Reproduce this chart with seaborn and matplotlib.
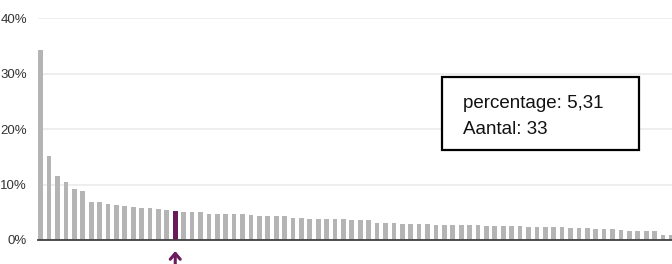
import matplotlib
matplotlib.use("Agg")
import matplotlib.pyplot as plt
import seaborn as sns
import pandas as pd
from matplotlib.patches import Rectangle

# ---- data ----
values = [34.3, 15.2, 11.6, 10.5, 9.15, 8.9, 6.8, 6.8, 6.55, 6.37,
          6.2, 6.0, 5.78, 5.78, 5.6, 5.4, 5.31, 5.0, 5.0, 5.0,
          4.76, 4.76, 4.76, 4.76, 4.76, 4.5, 4.34, 4.34, 4.34, 4.34,
          3.9, 3.9, 3.73, 3.73, 3.73, 3.73, 3.73, 3.55, 3.55, 3.55,
          3.13, 3.13, 3.13, 2.9, 2.9, 2.9, 2.9, 2.71, 2.71, 2.71,
          2.71, 2.71, 2.71, 2.53, 2.53, 2.53, 2.53, 2.53, 2.29, 2.29,
          2.29, 2.29, 2.29, 2.1, 2.1, 2.1, 1.93, 1.93, 1.93, 1.75,
          1.57, 1.57, 1.57, 1.57, 0.96, 0.96]
categories = [f"item{i+1:02d}" for i in range(len(values))]
highlight = "item17"
ytick_values = [0, 10, 20, 30, 40]
ytick_labels = ["0%", "10%", "20%", "30%", "40%"]
box_lines = ["percentage: 5,31", "Aantal: 33"]

GREY = "#b4b4b4"
PURPLE = "#6b1a5c"

df = pd.DataFrame({"cat": categories, "pct": values})
palette = {c: (PURPLE if c == highlight else GREY) for c in categories}

sns.set_theme(style="white")
plt.rcParams["font.family"] = ["Liberation Sans Narrow", "Liberation Sans", "DejaVu Sans"]

W, H = 672, 264
fig = plt.figure(figsize=(W / 100, H / 100), dpi=100)
ax_left, ax_right, ax_top, ax_bottom = 38.3, 672, 18.3, 240
ax = fig.add_axes([ax_left / W, (H - ax_bottom) / H,
                   (ax_right - ax_left) / W, (ax_bottom - ax_top) / H])

sns.barplot(data=df, x="cat", y="pct", hue="cat", palette=palette,
            legend=False, width=0.56, dodge=False, saturation=1, ax=ax, zorder=3,
            edgecolor="none", linewidth=0)

ax.set_ylim(0, 40)
ax.set_xlim(-0.285, len(values) - 1 + 0.07)
ax.set_yticks(ytick_values)
ax.set_yticklabels(ytick_labels, fontsize=9.5, color="#333333")
ax.set_xticks([])
ax.set_xlabel("")
ax.set_ylabel("")
ax.tick_params(axis="y", length=0, pad=8)
ax.yaxis.grid(True, color="#ebebeb", linewidth=1.2, zorder=0)
ax.set_axisbelow(True)
for s in ["top", "right", "left"]:
    ax.spines[s].set_visible(False)
ax.spines["bottom"].set_color("#404040")
ax.spines["bottom"].set_linewidth(1.3)
ax.spines["bottom"].set_zorder(4)

# arrow under highlighted bar
hi_idx = categories.index(highlight)
ax.annotate("", xy=(hi_idx, -0.05), xytext=(hi_idx, -0.108),
            xycoords=("data", "axes fraction"), textcoords=("data", "axes fraction"),
            arrowprops=dict(arrowstyle="->,head_length=0.35,head_width=0.3",
                            color=PURPLE, lw=2.2, shrinkA=0, shrinkB=0),
            annotation_clip=False)

# info box
bx0, bx1, by0, by1 = 442.3, 639, 76.7, 150
fig.patches.append(Rectangle((bx0 / W, 1 - by1 / H), (bx1 - bx0) / W, (by1 - by0) / H,
                             transform=fig.transFigure, fill=True, facecolor="white",
                             edgecolor="black", linewidth=1.6, zorder=10))
fig.text(463 / W, 1 - 104 / H, box_lines[0], fontsize=13.5, va="center", ha="left",
         family=["Liberation Sans", "DejaVu Sans"], color="#111111", zorder=11)
fig.text(463 / W, 1 - 130 / H, box_lines[1], fontsize=13.5, va="center", ha="left",
         family=["Liberation Sans", "DejaVu Sans"], color="#111111", zorder=11)

fig.savefig("out.png", dpi=100)
